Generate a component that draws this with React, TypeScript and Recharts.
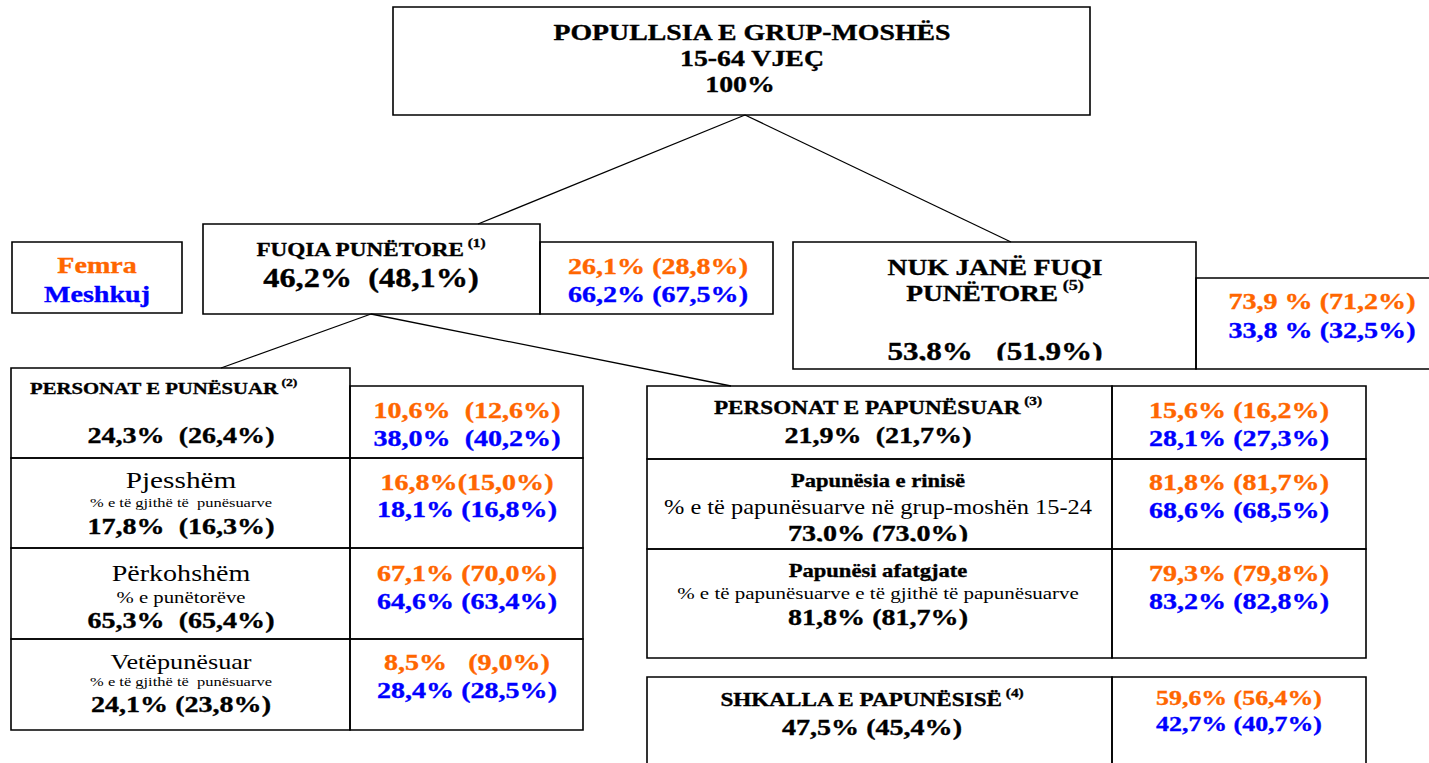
import React from 'react';
import {
  ScatterChart, Scatter, XAxis, YAxis, ReferenceArea, ReferenceLine
} from 'recharts';

const W = 1429;
const H = 763;
const ORANGE = '#FF6600';
const BLUE = '#0000FF';
const INK = '#000';
const SX = 1.22; // the source text is set wide
const FONT = '"Liberation Serif", "Times New Roman", serif';

// ---- values (index = category) ----
const categories = [
  'pop', 'labour', 'inactive', 'employed', 'partTime', 'temporary',
  'selfEmployed', 'unemployed', 'youth', 'longTerm', 'rate'
];
const titles = [
  ['POPULLSIA E GRUP-MOSHËS', '15-64 VJEÇ'],
  ['FUQIA PUNËTORE'],
  ['NUK JANË FUQI', 'PUNËTORE'],
  ['PERSONAT E PUNËSUAR'],
  ['Pjesshëm'],
  ['Përkohshëm'],
  ['Vetëpunësuar'],
  ['PERSONAT E PAPUNËSUAR'],
  ['Papunësia e rinisë'],
  ['Papunësi afatgjate'],
  ['SHKALLA E PAPUNËSISË']
];
const footnotes = [null, '(1)', '(5)', '(2)', null, null, null, '(3)', null, null, '(4)'];
const baseNotes = [
  null, null, null, null,
  '% e të gjithë të  punësuarve',
  '% e punëtorëve',
  '% e të gjithë të  punësuarve',
  null,
  '% e të papunësuarve në grup-moshën 15-24',
  '% e të papunësuarve e të gjithë të papunësuarve',
  null
];
const totalShare = [
  '100%', '46,2%  (48,1%)', '53,8%   (51,9%)', '24,3%  (26,4%)',
  '17,8%  (16,3%)', '65,3%  (65,4%)', '24,1% (23,8%)', '21,9%  (21,7%)',
  '73,0% (73,0%)', '81,8% (81,7%)', '47,5% (45,4%)'
];
const femraShare = [
  null, '26,1% (28,8%)', '73,9 % (71,2%)', '10,6%  (12,6%)',
  '16,8%(15,0%)', '67,1% (70,0%)', '8,5%   (9,0%)', '15,6% (16,2%)',
  '81,8% (81,7%)', '79,3% (79,8%)', '59,6% (56,4%)'
];
const meshkujShare = [
  null, '66,2% (67,5%)', '33,8 % (32,5%)', '38,0%  (40,2%)',
  '18,1% (16,8%)', '64,6% (63,4%)', '28,4% (28,5%)', '28,1% (27,3%)',
  '68,6% (68,5%)', '83,2% (82,8%)', '42,7% (40,7%)'
];
const legendLabels = ['Femra', 'Meshkuj'];

// ---- layout (diagram coordinates) ----
const layout = [
  { cx: 752, titleY: [40, 66], titleSize: 22.8, totalX: 740, totalY: 92, totalSize: 22.8 },
  { cx: 371, titleY: [256], titleSize: 19, totalY: 287, totalSize: 26.5, sideX: 658, femY: 274, mesY: 302, sideSize: 23 },
  { cx: 995, titleY: [274.5, 300.5], titleSize: 22.5, totalY: 359.5, totalSize: 25.5, clip: 1, sideX: 1322, femY: 309, mesY: 338, sideSize: 23 },
  { cx: 181, titleX: 30, start: true, titleY: [394], titleSize: 17, totalY: 443, totalSize: 23, sideX: 467, femY: 418, mesY: 446, sideSize: 23 },
  { cx: 181, titleY: [488], titleSize: 24, light: true, noteY: 507, noteSize: 13.5, totalY: 534, totalSize: 23, sideX: 467, femY: 490, mesY: 517, sideSize: 23 },
  { cx: 181, titleY: [581], titleSize: 23, light: true, noteY: 603, noteSize: 17, totalY: 628, totalSize: 23, sideX: 467, femY: 581, mesY: 609, sideSize: 23 },
  { cx: 181, titleY: [669], titleSize: 21.5, light: true, noteY: 686, noteSize: 13.5, totalY: 712, totalSize: 23, sideX: 467, femY: 670, mesY: 698, sideSize: 23 },
  { cx: 878, titleY: [414], titleSize: 19, totalY: 443, totalSize: 23, sideX: 1239, femY: 418, mesY: 446, sideSize: 23 },
  { cx: 878, titleY: [487], titleSize: 18.5, noteY: 514, noteSize: 20, totalY: 540.5, totalSize: 23, clip: 1, sideX: 1239, femY: 490, mesY: 518, sideSize: 23 },
  { cx: 878, titleY: [577], titleSize: 18.5, noteY: 599, noteSize: 17.2, totalY: 625, totalSize: 23, sideX: 1239, femY: 581, mesY: 609, sideSize: 23 },
  { cx: 872, titleY: [706], titleSize: 19, totalY: 735, totalSize: 23, sideX: 1239, femY: 705, mesY: 731, sideSize: 21.2 }
];

const boxes = [
  [393, 7, 1090, 115],
  [12, 242, 182, 313],
  [203, 224, 540, 314], [540, 242, 773, 314],
  [793, 242, 1196, 369], [1196, 278, 1440, 369],
  [11, 368, 350, 458], [350, 386, 583, 458],
  [11, 458, 350, 548], [350, 458, 583, 548],
  [11, 548, 350, 639], [350, 548, 583, 639],
  [11, 639, 350, 730], [350, 639, 583, 730],
  [647, 386, 1112, 459], [1112, 386, 1366, 459],
  [647, 459, 1112, 549], [1112, 459, 1366, 549],
  [647, 549, 1112, 658], [1112, 549, 1366, 658],
  [647, 677, 1112, 780], [1112, 677, 1366, 780]
];

const links = [
  [745, 115, 478, 224],
  [745, 115, 1011, 242],
  [371, 314, 221, 368],
  [371, 314, 731, 386]
];

type Label = {
  x: number; y: number; text: string; size: number; fill: string;
  bold: boolean; anchor: 'start' | 'middle'; sup?: string | null; clip?: number;
};

const labels: Label[] = [];
categories.forEach((_, i) => {
  const l: any = layout[i];
  titles[i].forEach((t, k) => {
    labels.push({
      x: l.titleX ?? l.cx, y: l.titleY[k], text: t, size: l.titleSize, fill: INK,
      bold: !l.light, anchor: l.start ? 'start' : 'middle',
      sup: k === titles[i].length - 1 ? footnotes[i] : null
    });
  });
  if (baseNotes[i]) {
    labels.push({ x: l.cx, y: l.noteY, text: baseNotes[i] as string, size: l.noteSize, fill: INK, bold: false, anchor: 'middle' });
  }
  labels.push({
    x: l.totalX ?? l.cx, y: l.totalY, text: totalShare[i], size: l.totalSize,
    fill: INK, bold: true, anchor: 'middle', clip: l.clip
  });
  if (femraShare[i]) {
    labels.push({ x: l.sideX, y: l.femY, text: femraShare[i] as string, size: l.sideSize, fill: ORANGE, bold: true, anchor: 'middle' });
    labels.push({ x: l.sideX, y: l.mesY, text: meshkujShare[i] as string, size: l.sideSize, fill: BLUE, bold: true, anchor: 'middle' });
  }
});
labels.push({ x: 97, y: 273, text: legendLabels[0], size: 23, fill: ORANGE, bold: true, anchor: 'middle' });
labels.push({ x: 97, y: 302, text: legendLabels[1], size: 23, fill: BLUE, bold: true, anchor: 'middle' });

const TextMark = (props: any) => {
  const { cx, cy, payload, index } = props;
  const p: Label = payload;
  const id = `clip-label-${index}`;
  return (
    <g transform={`translate(${cx},${cy}) scale(${SX},1)`}>
      {p.clip != null && (
        <clipPath id={id}>
          <rect x={-600} y={-200} width={1200} height={200 + p.clip} />
        </clipPath>
      )}
      <text
        x={0}
        y={0}
        textAnchor={p.anchor}
        fill={p.fill}
        stroke={p.bold ? p.fill : 'none'}
        strokeWidth={p.bold ? 0.35 : 0}
        fontSize={p.size}
        fontWeight={p.bold ? 700 : 400}
        fontFamily={FONT}
        clipPath={p.clip != null ? `url(#${id})` : undefined}
        style={{ whiteSpace: 'pre' }}
      >
        {p.text}
        {p.sup && (
          <tspan fontSize={p.size * 0.66} dy={-p.size * 0.45}>{` ${p.sup}`}</tspan>
        )}
      </text>
    </g>
  );
};

export default function App() {
  return (
    <div style={{ width: W, height: H, background: '#fff' }}>
      <style>{'body{margin:0;background:#fff}'}</style>
      <ScatterChart width={W} height={H} margin={{ top: 0, right: 0, bottom: 0, left: 0 }}>
        <XAxis type="number" dataKey="x" domain={[0, W]} hide allowDataOverflow />
        <YAxis type="number" dataKey="y" domain={[0, H]} reversed hide allowDataOverflow />
        {boxes.map(([x1, y1, x2, y2], i) => (
          <ReferenceArea
            key={`box-${i}`}
            x1={x1} x2={x2} y1={y1} y2={y2}
            fill="#fff" fillOpacity={0}
            stroke={INK} strokeWidth={1.6}
            ifOverflow="visible"
          />
        ))}
        {links.map(([x1, y1, x2, y2], i) => (
          <ReferenceLine
            key={`link-${i}`}
            segment={[{ x: x1, y: y1 }, { x: x2, y: y2 }]}
            stroke={INK} strokeWidth={1.3}
            ifOverflow="visible"
          />
        ))}
        <Scatter data={labels} shape={TextMark} isAnimationActive={false} />
      </ScatterChart>
    </div>
  );
}
